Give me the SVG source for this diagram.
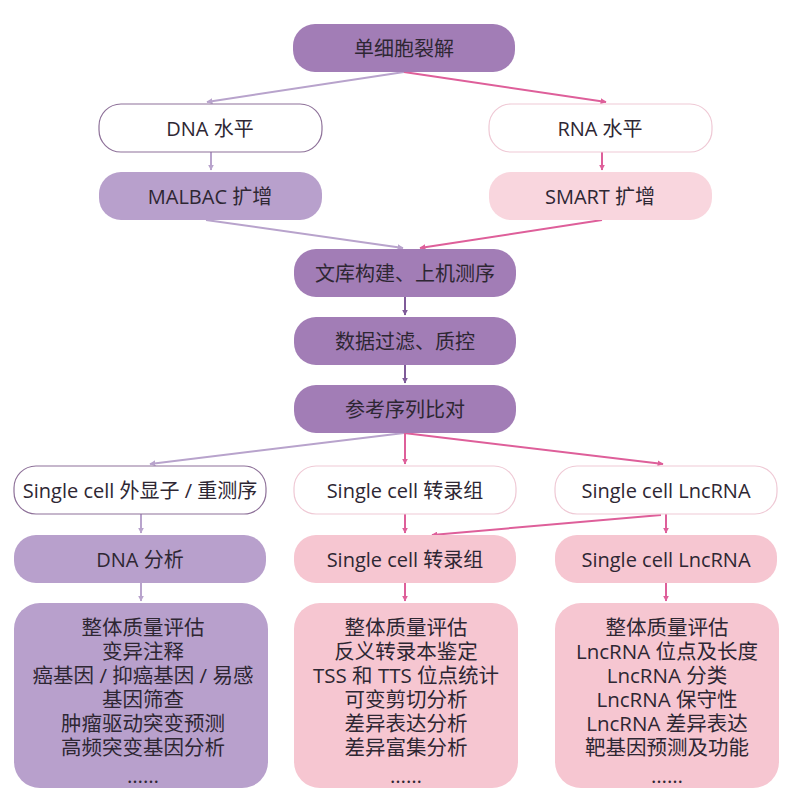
<svg xmlns="http://www.w3.org/2000/svg" width="805" height="812" viewBox="0 0 805 812">
<defs>
<style>
text{font-family:"Open Sans","Noto Sans CJK SC",sans-serif;font-size:20px;fill:#2e2733;text-anchor:middle;dominant-baseline:central}
.b{font-size:20.5px}
.main{fill:#a27db6}
.lp{fill:#b8a0cc}
.pk{fill:#f6c6d1}
.lpk{fill:#f9d6de}
.wp{fill:#fff;stroke:#8e7199;stroke-width:1.2}
.wk{fill:#fff;stroke:#efc9d5;stroke-width:1.2}
.c{fill:none;stroke-width:2}
.cl{stroke:#b8a3cc}
.cp{stroke:#de5f9a}
.cd{stroke:#7f5b99}
</style>
<marker id="al" viewBox="0 0 10 10" refX="9" refY="5" markerWidth="6" markerHeight="6" orient="auto" markerUnits="userSpaceOnUse"><path d="M0,0L10,5L0,10z" fill="#b8a3cc"/></marker>
<marker id="ap" viewBox="0 0 10 10" refX="9" refY="5" markerWidth="6" markerHeight="6" orient="auto" markerUnits="userSpaceOnUse"><path d="M0,0L10,5L0,10z" fill="#de5f9a"/></marker>
<marker id="ad" viewBox="0 0 10 10" refX="9" refY="5" markerWidth="6" markerHeight="6" orient="auto" markerUnits="userSpaceOnUse"><path d="M0,0L10,5L0,10z" fill="#7f5b99"/></marker>
</defs>
<rect width="805" height="812" fill="#fff"/>
<g id="connectors">
<path class="c cl" d="M404,72L207,102" marker-end="url(#al)"/>
<path class="c cp" d="M404,72L606,102" marker-end="url(#ap)"/>
<path class="c cl" d="M211,152L211,170" marker-end="url(#al)"/>
<path class="c cp" d="M602,152L602,170" marker-end="url(#ap)"/>
<path class="c cl" d="M206,220L403,248" marker-end="url(#al)"/>
<path class="c cp" d="M602,220L420,248" marker-end="url(#ap)"/>
<path class="c cd" d="M405,297L405,315" marker-end="url(#ad)"/>
<path class="c cd" d="M405,365L405,383" marker-end="url(#ad)"/>
<path class="c cl" d="M404,433L150,464" marker-end="url(#al)"/>
<path class="c cp" d="M405,433L405,464" marker-end="url(#ap)"/>
<path class="c cp" d="M404,433L663,464" marker-end="url(#ap)"/>
<path class="c cl" d="M141,514L141,533" marker-end="url(#al)"/>
<path class="c cp" d="M405,514L405,533" marker-end="url(#ap)"/>
<path class="c cp" d="M666,514L666,533" marker-end="url(#ap)"/>
<path class="c cp" d="M661,515L432,535" marker-end="url(#ap)"/>
<path class="c cl" d="M141,583L141,601" marker-end="url(#al)"/>
<path class="c cp" d="M405,583L405,601" marker-end="url(#ap)"/>
<path class="c cp" d="M666,583L666,601" marker-end="url(#ap)"/>
</g>
<g id="n1"><rect class="main" x="293" y="24" width="222" height="48" rx="22"/><text x="404" y="48">单细胞裂解</text></g>
<g id="n2"><rect class="wp" x="99" y="104" width="223" height="48" rx="22"/><text x="210" y="128">DNA 水平</text></g>
<g id="n3"><rect class="wk" x="489" y="104" width="223" height="48" rx="22"/><text x="600" y="128">RNA 水平</text></g>
<g id="n4"><rect class="lp" x="99" y="172" width="223" height="48" rx="22"/><text x="210" y="196">MALBAC 扩增</text></g>
<g id="n5"><rect class="lpk" x="489" y="172" width="223" height="48" rx="22"/><text x="600" y="196">SMART 扩增</text></g>
<g id="n6"><rect class="main" x="294" y="249" width="222" height="48" rx="22"/><text x="405" y="273">文库构建、上机测序</text></g>
<g id="n7"><rect class="main" x="294" y="317" width="222" height="48" rx="22"/><text x="405" y="341">数据过滤、质控</text></g>
<g id="n8"><rect class="main" x="294" y="385" width="222" height="48" rx="22"/><text x="405" y="409">参考序列比对</text></g>
<g id="n9"><rect class="wp" x="14" y="466" width="252" height="48" rx="22"/><text x="140" y="490">Single cell 外显子 / 重测序</text></g>
<g id="n10"><rect class="wk" x="294" y="466" width="222" height="48" rx="22"/><text x="405" y="490">Single cell 转录组</text></g>
<g id="n11"><rect class="wk" x="555" y="466" width="222" height="48" rx="22"/><text x="666" y="490">Single cell LncRNA</text></g>
<g id="n12"><rect class="lp" x="14" y="535" width="252" height="48" rx="22"/><text x="140" y="559">DNA 分析</text></g>
<g id="n13"><rect class="pk" x="294" y="535" width="222" height="48" rx="22"/><text x="405" y="559">Single cell 转录组</text></g>
<g id="n14"><rect class="pk" x="555" y="535" width="222" height="48" rx="22"/><text x="666" y="559">Single cell LncRNA</text></g>
<g id="n15"><rect class="lp" x="14" y="603" width="254" height="185" rx="26"/>
<text class="b" x="143" y="627">整体质量评估</text>
<text class="b" x="143" y="651">变异注释</text>
<text class="b" x="143" y="675">癌基因 / 抑癌基因 / 易感</text>
<text class="b" x="143" y="699">基因筛查</text>
<text class="b" x="143" y="723">肿瘤驱动突变预测</text>
<text class="b" x="143" y="747">高频突变基因分析</text>
<text class="b" x="143" y="775">……</text></g>
<g id="n16"><rect class="pk" x="294" y="603" width="224" height="185" rx="26"/>
<text class="b" x="406" y="627">整体质量评估</text>
<text class="b" x="406" y="651">反义转录本鉴定</text>
<text class="b" x="406" y="675">TSS 和 TTS 位点统计</text>
<text class="b" x="406" y="699">可变剪切分析</text>
<text class="b" x="406" y="723">差异表达分析</text>
<text class="b" x="406" y="747">差异富集分析</text>
<text class="b" x="406" y="775">……</text></g>
<g id="n17"><rect class="pk" x="555" y="603" width="224" height="185" rx="26"/>
<text class="b" x="667" y="627">整体质量评估</text>
<text class="b" x="667" y="651">LncRNA 位点及长度</text>
<text class="b" x="667" y="675">LncRNA 分类</text>
<text class="b" x="667" y="699">LncRNA 保守性</text>
<text class="b" x="667" y="723">LncRNA 差异表达</text>
<text class="b" x="667" y="747">靶基因预测及功能</text>
<text class="b" x="667" y="775">……</text></g>
</svg>
